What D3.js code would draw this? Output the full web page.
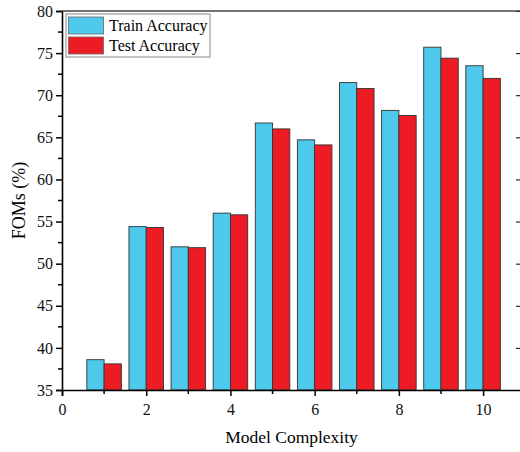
<!DOCTYPE html>
<html>
<head>
<meta charset="utf-8">
<script src="https://cdn.jsdelivr.net/npm/d3@7"></script>
<style>
  body { margin: 0; background: #fff; }
  svg, svg text { font-family: "Liberation Serif", "Times New Roman", serif; }
  svg { display: block; }
</style>
</head>
<body>
<div id="chart"></div>
<script>
// values
const complexity = [1, 2, 3, 4, 5, 6, 7, 8, 9, 10];
const trainAcc = [38.6, 54.4, 52.0, 56.0, 66.7, 64.7, 71.5, 68.2, 75.7, 73.5];
const testAcc = [38.1, 54.3, 51.9, 55.8, 66.0, 64.1, 70.8, 67.6, 74.4, 72.0];
const seriesNames = ['Train Accuracy', 'Test Accuracy'];
const xTicks = [0, 2, 4, 6, 8, 10];
const yTicks = [35, 40, 45, 50, 55, 60, 65, 70, 75, 80];

const colors = ['#4dc9ec', '#ed1c24'];

const width = 520, height = 452;
const margin = { top: 11, right: -1, bottom: 62, left: 62 };
const innerW = width - margin.left - margin.right;
const innerH = height - margin.top - margin.bottom;

const svg = d3.select('#chart').append('svg')
    .attr('width', width)
    .attr('height', height);

const chart = svg.append('g')
    .attr('transform', `translate(${margin.left},${margin.top})`);

const x = d3.scaleLinear().domain([0, 10.9]).range([0, innerW]);
const y = d3.scaleLinear().domain([35, 80]).range([innerH, 0]);

const barW = x(0.41) - x(0);

// bars
const rows = complexity.map((c, i) => ({ c, vals: [trainAcc[i], testAcc[i]] }));
rows.forEach(r => {
    r.vals.forEach((v, s) => {
        chart.append('rect')
            .attr('x', x(r.c) - barW + s * barW)
            .attr('y', y(v))
            .attr('width', barW)
            .attr('height', innerH - y(v))
            .attr('fill', colors[s])
            .attr('stroke', '#333')
            .attr('stroke-width', 0.9);
    });
});

// bottom axis
const xAxis = chart.append('g')
    .attr('transform', `translate(0,${innerH})`)
    .call(d3.axisBottom(x).tickValues(xTicks).tickFormat(d3.format('d')).tickSize(6).tickPadding(8));
xAxis.append('g').selectAll('line')
    .data(d3.range(1, 11, 2))
    .enter().append('line')
    .attr('x1', d => x(d)).attr('x2', d => x(d))
    .attr('y1', 0).attr('y2', 4)
    .attr('stroke', '#000').attr('stroke-width', 1.5);

// left axis
const yAxis = chart.append('g')
    .call(d3.axisLeft(y).tickValues(yTicks).tickSize(6).tickPadding(3));
yAxis.append('g').selectAll('line')
    .data(d3.range(37.5, 80, 5))
    .enter().append('line')
    .attr('x1', 0).attr('x2', -4)
    .attr('y1', d => y(d)).attr('y2', d => y(d))
    .attr('stroke', '#000').attr('stroke-width', 1.5);

// right axis, ticks inward
chart.append('g')
    .attr('transform', `translate(${innerW},0)`)
    .call(d3.axisRight(y).tickValues(yTicks).tickSize(-5).tickFormat(''));

// top frame line
chart.append('line')
    .attr('x1', 0).attr('x2', innerW)
    .attr('y1', 0).attr('y2', 0)
    .attr('stroke', '#444').attr('stroke-width', 1.6);

[xAxis, yAxis].forEach(a => {
    a.attr('font-family', null);
    a.select('.domain').attr('stroke-width', 1.6);
    a.selectAll('.tick line').attr('stroke-width', 1.5);
    a.selectAll('text')
        .style('font-family', '"Liberation Serif", serif')
        .style('font-size', '16px')
        .attr('fill', '#111');
});

// axis titles
svg.append('text')
    .attr('x', margin.left + innerW / 2)
    .attr('y', 443)
    .attr('text-anchor', 'middle')
    .style('font-size', '17.5px')
    .text('Model Complexity');

svg.append('text')
    .attr('transform', `translate(25,${margin.top + innerH / 2}) rotate(-90)`)
    .attr('text-anchor', 'middle')
    .style('font-size', '18px')
    .text('FOMs (%)');

// legend
const legend = svg.append('g').attr('transform', 'translate(66,14)');
legend.append('rect')
    .attr('width', 144).attr('height', 43)
    .attr('fill', '#fff')
    .attr('stroke', '#888').attr('stroke-width', 1);
seriesNames.forEach((name, i) => {
    legend.append('rect')
        .attr('x', 2.5).attr('y', 3 + i * 20)
        .attr('width', 35).attr('height', 17)
        .attr('fill', colors[i])
        .attr('stroke', '#666').attr('stroke-width', 0.8);
    legend.append('text')
        .attr('x', 43).attr('y', 17 + i * 20)
        .style('font-size', '16px')
        .text(name);
});
</script>
</body>
</html>
